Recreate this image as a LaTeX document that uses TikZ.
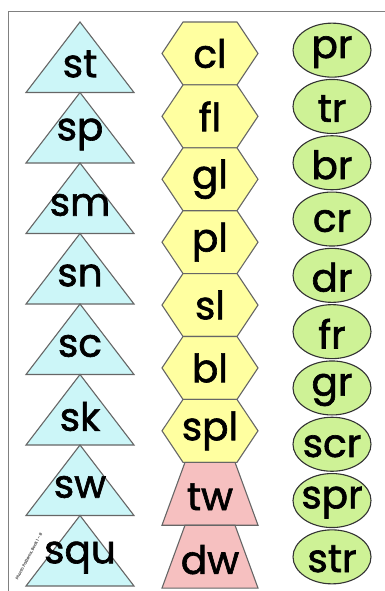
\documentclass[tikz,border=0pt]{standalone}
\usepackage{fontspec}
\setmainfont{Poppins}[FakeBold=1.6]
\definecolor{tricyan}{RGB}{204,246,248}
\definecolor{hexyellow}{RGB}{255,255,160}
\definecolor{ovalgreen}{RGB}{206,242,150}
\definecolor{trappink}{RGB}{246,192,192}
\begin{document}
\begin{tikzpicture}[x=1pt,y=-1pt,line width=1.1pt,every node/.style={font=\fontsize{39}{39}\selectfont}]
  \pgfmathsetmacro\th{70.5}
  \pgfmathsetmacro\hh{62.9}
  \pgfmathsetmacro\eh{56.3}
  \useasboundingbox (0,0) rectangle (385,591);
  % frame of the page:
  \draw[gray,line width=1pt] (8,591) -- (8,12) -- (385,12);
  % triangles:
  \foreach \s [count=\i from 0] in {st,sp,sm,sn,sc,sk,sw,squ} {
    \pgfmathsetmacro\y{22+\th*\i}
    \draw[draw=black!60,fill=tricyan] (80,\y) -- ++(54,\th) -- ++(-108,0) -- cycle;
    \node (tri\i) at (80,\y+42) {\s};
  }
  % hexagons:
  \foreach \s [count=\i from 0] in {cl,fl,gl,pl,sl,bl,spl} {
    \pgfmathsetmacro\y{22+\hh*\i}
    \draw[draw=black!60,fill=hexyellow] (183,\y) -- (237,\y) -- (258,\y+\hh/2)
      -- (237,\y+\hh) -- (183,\y+\hh) -- (162,\y+\hh/2) -- cycle;
    \node (hex\i) at (210,\y+\hh/2) {\s};
  }
  % trapezoids:
  \foreach \s [count=\i from 7] in {tw,dw} {
    \pgfmathsetmacro\y{22+\hh*\i}
    \draw[draw=black!60,fill=trappink] (185,\y) -- (235,\y) -- (258,\y+\hh)
      -- (162,\y+\hh) -- cycle;
    \node (trap\i) at (210,\y+\hh/2+3) {\s};
  }
  % ovals:
  \foreach \s [count=\i from 0] in {pr,tr,br,cr,dr,fr,gr,scr,spr,str} {
    \pgfmathsetmacro\y{22+\eh*\i+\eh/2}
    \draw[draw=black!80,fill=ovalgreen] (332,\y) ellipse (39 and 27);
    \node (oval\i) at (332,\y+2) {\s};
  }
  % small print along the last triangle:
  \node[font=\fontsize{4}{4}\selectfont,text=gray,rotate=62] (credit) at (29,556)
    {Phonic Patterns, Book 1 -- 8};
\end{tikzpicture}
\end{document}
